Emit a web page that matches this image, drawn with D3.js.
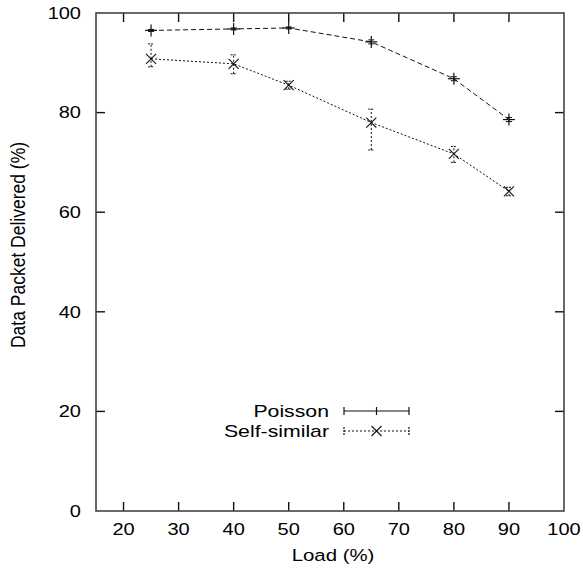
<!DOCTYPE html>
<html>
<head>
<meta charset="utf-8">
<script src="https://cdn.jsdelivr.net/npm/d3@7"></script>
<style>
  body { margin: 0; background: #fff; }
  svg { display: block; }
</style>
</head>
<body>
<div id="chart"></div>
<script>
// data
var loads = [25, 40, 50, 65, 80, 90];
var poisson = [96.5, 96.8, 97.0, 94.2, 86.8, 78.6];
var poissonLo = [96.3, 96.6, 96.8, 93.8, 86.4, 78.2];
var poissonHi = [96.7, 97.0, 97.2, 94.6, 87.2, 79.0];
var selfSimilar = [90.8, 89.8, 85.5, 78.0, 71.7, 64.2];
var selfLo = [89.2, 87.8, 84.7, 72.5, 70.0, 63.3];
var selfHi = [93.8, 91.6, 86.3, 80.7, 73.2, 65.0];
var xTicks = [20, 30, 40, 50, 60, 70, 80, 90, 100];
var yTicks = [0, 20, 40, 60, 80, 100];

var width = 583, height = 570;
var margin = {top: 13, right: 19, bottom: 59, left: 96};
var stretch = 1.25; // the lettering is wider than it is tall

var svg = d3.select("#chart").append("svg")
    .attr("width", width)
    .attr("height", height)
    .style("font-family", "'Liberation Sans', Arial, sans-serif");

var x = d3.scaleLinear().domain([15, 100]).range([margin.left, width - margin.right]);
var y = d3.scaleLinear().domain([0, 100]).range([height - margin.bottom, margin.top]);

var x0 = x.range()[0], x1 = x.range()[1], y0 = y.range()[0], y1 = y.range()[1];

// ticks on all four sides, pointing in
var tickLen = 9;
var g = svg.append("g").attr("stroke", "#111").attr("stroke-width", 1.4);
xTicks.forEach(t => {
    if (t === 100) return;
    g.append("line").attr("x1", x(t)).attr("x2", x(t)).attr("y1", y0).attr("y2", y0 - tickLen);
    g.append("line").attr("x1", x(t)).attr("x2", x(t)).attr("y1", y1).attr("y2", y1 + tickLen);
});
yTicks.forEach(t => {
    if (t === 0 || t === 100) return;
    g.append("line").attr("x1", x0).attr("x2", x0 + tickLen).attr("y1", y(t)).attr("y2", y(t));
    g.append("line").attr("x1", x1).attr("x2", x1 - tickLen).attr("y1", y(t)).attr("y2", y(t));
});

svg.append("rect")
    .attr("x", x0).attr("y", y1)
    .attr("width", x1 - x0).attr("height", y0 - y1)
    .attr("fill", "none")
    .attr("stroke", "#444")
    .attr("stroke-width", 1.6);

// tick labels
svg.append("g").selectAll("text")
    .data(xTicks)
    .join("text")
    .attr("transform", d => `translate(${x(d)},${y0 + 24}) scale(${stretch},1)`)
    .attr("text-anchor", "middle")
    .attr("font-size", 16)
    .text(d => d);

svg.append("g").selectAll("text")
    .data(yTicks)
    .join("text")
    .attr("transform", d => `translate(${x0 - 15},${y(d)}) scale(${stretch},1)`)
    .attr("dy", "0.36em")
    .attr("text-anchor", "end")
    .attr("font-size", 16)
    .text(d => d);

svg.append("text")
    .attr("transform", `translate(${(x0 + x1) / 2 + 3},${y0 + 50}) scale(1.2,1)`)
    .attr("text-anchor", "middle")
    .attr("font-size", 17)
    .text("Load (%)");

svg.append("text")
    .attr("transform", `translate(25,${(y0 + y1) / 2 - 17}) rotate(-90) scale(1,1.15)`)
    .attr("text-anchor", "middle")
    .attr("font-size", 17.5)
    .text("Data Packet Delivered (%)");

var line = d3.line().x(d => x(d[0])).y(d => y(d[1]));

function drawSeries(vals, lo, hi, dash, marker) {
    var pts = loads.map((l, i) => [l, vals[i]]);
    var s = svg.append("g").attr("stroke", "#111").attr("fill", "none");
    s.append("path")
        .attr("d", line(pts))
        .attr("stroke-width", 1)
        .attr("stroke-dasharray", dash);
    loads.forEach((l, i) => {
        var cx = x(l);
        s.append("line").attr("x1", cx).attr("x2", cx).attr("y1", y(lo[i])).attr("y2", y(hi[i]))
            .attr("stroke-width", 1).attr("stroke-dasharray", marker === "x" ? "2,2" : null);
        [lo[i], hi[i]].forEach(v => {
            s.append("line").attr("x1", cx - 3).attr("x2", cx + 3).attr("y1", y(v)).attr("y2", y(v))
                .attr("stroke-width", 1).attr("stroke-dasharray", marker === "x" ? "2,1" : null);
        });
        drawMarker(s, cx, y(vals[i]), marker);
    });
}

function drawMarker(s, cx, cy, marker) {
    var r = 5;
    if (marker === "+") {
        s.append("line").attr("x1", cx - r - 1).attr("x2", cx + r + 1).attr("y1", cy).attr("y2", cy).attr("stroke-width", 1.2);
        s.append("line").attr("x1", cx).attr("x2", cx).attr("y1", cy - r - 1).attr("y2", cy + r + 1).attr("stroke-width", 1.2);
    } else {
        s.append("line").attr("x1", cx - r).attr("x2", cx + r).attr("y1", cy - r).attr("y2", cy + r).attr("stroke-width", 1.1);
        s.append("line").attr("x1", cx - r).attr("x2", cx + r).attr("y1", cy + r).attr("y2", cy - r).attr("stroke-width", 1.1);
    }
}

drawSeries(poisson, poissonLo, poissonHi, "5,3", "+");
drawSeries(selfSimilar, selfLo, selfHi, "2,2", "x");

// legend
var legend = [
    {name: "Poisson", dash: null, marker: "+", y: 411},
    {name: "Self-similar", dash: "2,2", marker: "x", y: 431}
];
var lx0 = 344, lx1 = 409, textRight = 329;
legend.forEach(d => {
    svg.append("text")
        .attr("transform", `translate(${textRight},${d.y}) scale(${stretch},1)`)
        .attr("dy", "0.36em")
        .attr("text-anchor", "end")
        .attr("font-size", 17)
        .text(d.name);
    var lg = svg.append("g").attr("stroke", "#111").attr("fill", "none");
    lg.append("line").attr("x1", lx0).attr("x2", lx1).attr("y1", d.y).attr("y2", d.y)
        .attr("stroke-width", 1.2).attr("stroke-dasharray", d.dash);
    [lx0, lx1].forEach(ex => {
        lg.append("line").attr("x1", ex).attr("x2", ex).attr("y1", d.y - 4).attr("y2", d.y + 4)
            .attr("stroke-width", 1.2).attr("stroke-dasharray", d.marker === "x" ? "2,1" : null);
    });
    if (d.marker === "+") {
        lg.append("line").attr("x1", (lx0 + lx1) / 2).attr("x2", (lx0 + lx1) / 2)
            .attr("y1", d.y - 4).attr("y2", d.y + 4).attr("stroke-width", 1.2);
    } else {
        drawMarker(lg, (lx0 + lx1) / 2, d.y, "x");
    }
});
</script>
</body>
</html>
